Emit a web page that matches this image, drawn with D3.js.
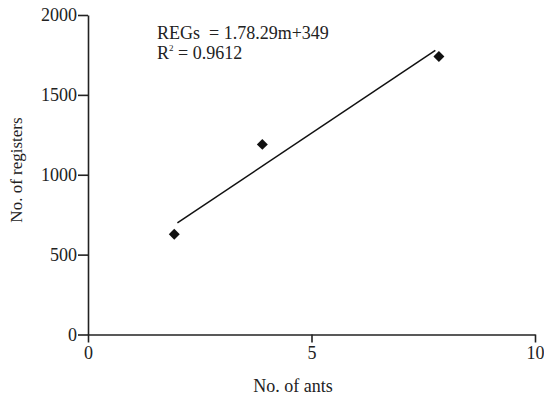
<!DOCTYPE html>
<html>
<head>
<meta charset="utf-8">
<script src="https://cdn.jsdelivr.net/npm/d3@7/dist/d3.min.js"></script>
<style>
    body { margin: 0; background: #fff; }
    svg text { font-family: "Liberation Serif", "DejaVu Serif", serif; fill: #222; }
</style>
</head>
<body>
<div class="content"></div>
<script>
(function () {
    'use strict';
    // observed points
    var antsX = [1.93, 3.9, 7.85],
        regsY = [628, 1190, 1740],
        // fitted line end points
        fitX = [2, 7.77],
        fitY = [699, 1778],
        xTicks = [0, 5, 10],
        yTicks = [0, 500, 1000, 1500, 2000];

    var width = 544, height = 398,
        margin = {left: 88, top: 15},
        svg, x, y, g, xAxis, yAxis, note;

    svg = d3.select('.content').append('svg')
        .attr('width', width)
        .attr('height', height);

    x = d3.scaleLinear().domain([0, 10]).range([margin.left, 535]);
    y = d3.scaleLinear().domain([0, 2000]).range([334.5, margin.top]);

    xAxis = svg.append('g')
        .attr('transform', 'translate(0,' + y(0) + ')')
        .call(d3.axisBottom(x).tickValues(xTicks).tickFormat(d3.format('d'))
            .tickSize(8).tickPadding(4).tickSizeOuter(0));
    yAxis = svg.append('g')
        .attr('transform', 'translate(' + x(0) + ',0)')
        .call(d3.axisLeft(y).tickValues(yTicks).tickFormat(d3.format('d'))
            .tickSize(10).tickPadding(1).tickSizeOuter(0));

    [xAxis, yAxis].forEach(function (a) {
        a.select('.domain').attr('stroke', '#222').attr('stroke-width', 1.6);
        a.selectAll('.tick line').attr('stroke', '#222').attr('stroke-width', 1.6);
        a.selectAll('.tick text').attr('font-size', '18px').attr('fill', '#222')
            .style('font-family', '"Liberation Serif", serif');
    });

    // regression line
    svg.append('line')
        .attr('x1', x(fitX[0])).attr('y1', y(fitY[0]))
        .attr('x2', x(fitX[1])).attr('y2', y(fitY[1]))
        .attr('stroke', '#111').attr('stroke-width', 1.5);

    // markers
    g = svg.append('g');
    g.selectAll('path').data(antsX).enter().append('path')
        .attr('d', d3.symbol().type(d3.symbolSquare).size(60))
        .attr('transform', function (d, i) {
            return 'translate(' + [x(d), y(regsY[i])] + ') rotate(45)';
        })
        .attr('fill', '#111');

    // axis titles
    svg.append('text')
        .attr('x', 293).attr('y', 392)
        .attr('text-anchor', 'middle')
        .attr('font-size', '18px')
        .text('No. of ants');
    svg.append('text')
        .attr('transform', 'translate(22,170) rotate(-90)')
        .attr('text-anchor', 'middle')
        .attr('font-size', '17px')
        .text('No. of registers');

    // equation
    note = svg.append('text')
        .attr('x', 157).attr('y', 39)
        .attr('font-size', '18px')
        .style('white-space', 'pre')
        .text('REGs  = 1.78.29m+349');
    note = svg.append('text')
        .attr('x', 157).attr('y', 59)
        .attr('font-size', '18px');
    note.append('tspan').text('R');
    note.append('tspan').attr('font-size', '9px').attr('dy', -8).text('2');
    note.append('tspan').attr('dy', 8).text(' = 0.9612');
}());
</script>
</body>
</html>
